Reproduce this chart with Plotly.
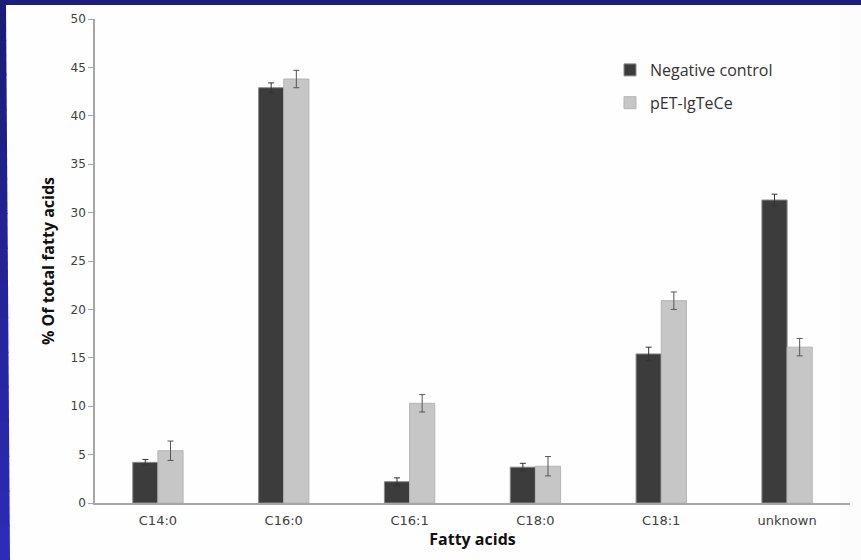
import plotly.graph_objects as go

categories = ["C14:0", "C16:0", "C16:1", "C18:0", "C18:1", "unknown"]
neg_control = [4.2, 42.9, 2.2, 3.7, 15.4, 31.3]
neg_err = [0.3, 0.5, 0.4, 0.4, 0.7, 0.6]
pet = [5.4, 43.8, 10.3, 3.8, 20.9, 16.1]
pet_err = [1.0, 0.9, 0.9, 1.0, 0.9, 0.9]
y_ticks = [0, 5, 10, 15, 20, 25, 30, 35, 40, 45, 50]

W, H = 861, 560
L, R, T, B = 95, 11, 19, 57
pw, ph = W - L - R, H - T - B

def px(x):
    return (x - L) / pw

def py(y):
    return (H - B - y) / ph

fig = go.Figure()
fig.add_trace(go.Bar(
    name="Negative control", x=categories, y=neg_control, legendgroup="a",
    marker=dict(color="#3c3c3c", line=dict(color="#8a8a8a", width=1)),
    error_y=dict(type="data", array=neg_err, color="#333333", thickness=1, width=3),
))
fig.add_trace(go.Bar(
    name="pET-IgTeCe", x=categories, y=pet, legendgroup="b",
    marker=dict(color="#c6c6c6", line=dict(color="#b4b4b4", width=1)),
    error_y=dict(type="data", array=pet_err, color="#555555", thickness=1, width=3),
))

shapes = []
# top navy border
shapes.append(dict(type="rect", xref="paper", yref="paper", layer="below",
                   x0=px(-5), x1=px(W + 10), y0=py(5), y1=py(-5),
                   fillcolor="#1d1d7a", line=dict(width=0)))
# right edge panel (keeps the white area running to the edge)
shapes.append(dict(type="rect", xref="paper", yref="paper", layer="below",
                   x0=px(840), x1=px(W + 10), y0=py(H + 10), y1=py(5),
                   fillcolor="#fcfcfc", line=dict(width=0)))
# left border gradient strip (slightly widening downwards)
n = 16
for i in range(n):
    t = i / (n - 1)
    r = int(0x1c + (0x2c - 0x1c) * t)
    g = int(0x1c + (0x2c - 0x1c) * t)
    b = int(0x78 + (0xb6 - 0x78) * t)
    ya = 5 + (H - 5) * i / n
    yb = 5 + (H - 5) * (i + 1) / n + 1
    wa = 6 + 4 * i / n
    wb = 6 + 4 * (i + 1) / n
    path = "M {:.5f},{:.5f} L {:.5f},{:.5f} L {:.5f},{:.5f} L {:.5f},{:.5f} Z".format(
        px(-5), py(ya), px(wa), py(ya), px(wb), py(yb), px(-5), py(yb))
    shapes.append(dict(type="path", xref="paper", yref="paper", layer="below",
                       path=path, fillcolor=f"rgb({r},{g},{b})", line=dict(width=0)))

fig.update_layout(
    width=W, height=H,
    margin=dict(l=L, r=R, t=T, b=B),
    paper_bgcolor="#fefefe",
    plot_bgcolor="rgba(0,0,0,0)",
    barmode="group", bargap=0.6, bargroupgap=0,
    font=dict(family="DejaVu Sans, Verdana, sans-serif", color="#404040", size=12),
    shapes=shapes,
    showlegend=True,
    legend=dict(x=px(610), y=py(53), xanchor="left", yanchor="top",
                bgcolor="rgba(0,0,0,0)",
                font=dict(family="Open Sans, sans-serif", size=16, color="#333333"),
                itemwidth=30, tracegroupgap=9),
    xaxis=dict(
        showline=True, linecolor="#a6a6a6", linewidth=1.5,
        ticks="outside", ticklen=5, tickcolor="rgba(0,0,0,0)",
        tickfont=dict(size=13, color="#404040"),
        title=dict(text="<b>Fatty acids</b>",
                   font=dict(family="Open Sans, sans-serif", size=16, color="#111111"), standoff=6),
        showgrid=False, zeroline=False,
    ),
    yaxis=dict(
        range=[0, 50], tickvals=y_ticks, showline=True, linecolor="#a6a6a6", linewidth=1.5,
        ticks="outside", ticklen=5, tickcolor="#a6a6a6",
        tickfont=dict(size=12, color="#404040"),
        title=dict(text="<b>% Of total fatty acids</b>",
                   font=dict(family="Open Sans, sans-serif", size=16, color="#111111"), standoff=12),
        showgrid=False, zeroline=False,
    ),
)

fig.write_html("out.html", config={"displayModeBar": False},
               post_script="document.body.style.margin='0';")
